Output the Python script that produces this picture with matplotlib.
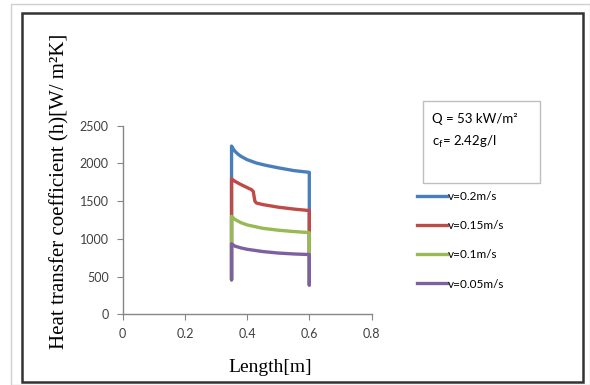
import matplotlib.pyplot as plt
from matplotlib.patches import Rectangle
from matplotlib.lines import Line2D

# points (x in m, h in W/m2K)
x_blue = [0.35, 0.35, 0.355, 0.36, 0.37, 0.38, 0.40, 0.43, 0.46, 0.50, 0.55, 0.60, 0.60]
h_blue = [460, 2230, 2195, 2165, 2125, 2095, 2050, 2005, 1975, 1942, 1905, 1882, 390]

x_red = [0.35, 0.35, 0.36, 0.38, 0.40, 0.415, 0.42, 0.425, 0.43, 0.45, 0.50, 0.55, 0.60, 0.60]
h_red = [460, 1795, 1765, 1720, 1680, 1650, 1625, 1500, 1475, 1455, 1420, 1395, 1375, 390]

x_green = [0.35, 0.35, 0.36, 0.38, 0.40, 0.45, 0.50, 0.55, 0.60, 0.60]
h_green = [460, 1300, 1260, 1215, 1185, 1140, 1115, 1097, 1083, 390]

x_purple = [0.35, 0.35, 0.36, 0.38, 0.40, 0.45, 0.50, 0.55, 0.60, 0.60]
h_purple = [455, 935, 905, 880, 862, 832, 812, 800, 792, 388]

labels = ['v=0.2m/s', 'v=0.15m/s', 'v=0.1m/s', 'v=0.05m/s']
colors = ['#4a7ebb', '#be4b48', '#98b954', '#7d60a0']

fig = plt.figure(figsize=(5.9, 3.85), dpi=100)

# outer frames
fig.patches.append(Rectangle((11/590, 0), 579/590, (385-4)/385, transform=fig.transFigure,
                             fill=False, edgecolor='#d0d0d0', lw=1))
fig.patches.append(Rectangle((22/590, 1 - 382/385), 561/590, (382-13)/385, transform=fig.transFigure,
                             fill=False, edgecolor='#333333', lw=1.8))

ax = fig.add_axes([122.7/590, 1 - 314.3/385, (371.5-122.7)/590, (314.3-125.7)/385])

data = [(x_blue, h_blue), (x_red, h_red), (x_green, h_green), (x_purple, h_purple)]
for (xs, hs), c in zip(data, colors):
    ax.plot(xs, hs, color=c, lw=2.4, solid_joinstyle='round', solid_capstyle='round')

ax.set_xlim(0, 0.8)
ax.set_ylim(0, 2500)
ax.set_xticks([0, 0.2, 0.4, 0.6, 0.8])
ax.set_xticklabels(['0', '0.2', '0.4', '0.6', '0.8'])
ax.set_yticks([0, 500, 1000, 1500, 2000, 2500])
for s in ['top', 'right']:
    ax.spines[s].set_visible(False)
for s in ['left', 'bottom']:
    ax.spines[s].set_color('#868686')
    ax.spines[s].set_linewidth(1)
ax.tick_params(direction='out', length=4, color='#868686', labelsize=9, labelcolor='#404040', pad=6)
for t in ax.get_xticklabels() + ax.get_yticklabels():
    t.set_family('Lato')

fig.text(270/590, 1 - 367/385, 'Length[m]', family='Liberation Serif', fontsize=14,
         ha='center', va='center')
fig.text(60/590, 1 - 191/385, 'Heat transfer coefficient (h)[W/ m²K]', family='Liberation Serif',
         fontsize=15, rotation=90, ha='center', va='center')

# parameter box
fig.patches.append(Rectangle((423/590, 1 - 183/385), 117/590, 82/385, transform=fig.transFigure,
                             fill=False, edgecolor='#bfbfbf', lw=1))
fig.text(432/590, 1 - 119/385, 'Q = 53 kW/m²', family='Lato', fontsize=9.5, va='center')
fig.text(432/590, 1 - 142/385, r'c$_\mathregular{f}$= 2.42g/l', family='Lato', fontsize=9.5, va='center')

handles = [Line2D([], [], color=c, lw=2.4) for c in colors]
fig.legend(handles, labels, loc='upper left', bbox_to_anchor=(412/590, 1 - 186/385),
           frameon=False, prop={'family': 'Lato', 'size': 8.5}, handlelength=2.6,
           handletextpad=0.05, labelspacing=1.55, borderaxespad=0)

fig.savefig('out.png', dpi=100)
